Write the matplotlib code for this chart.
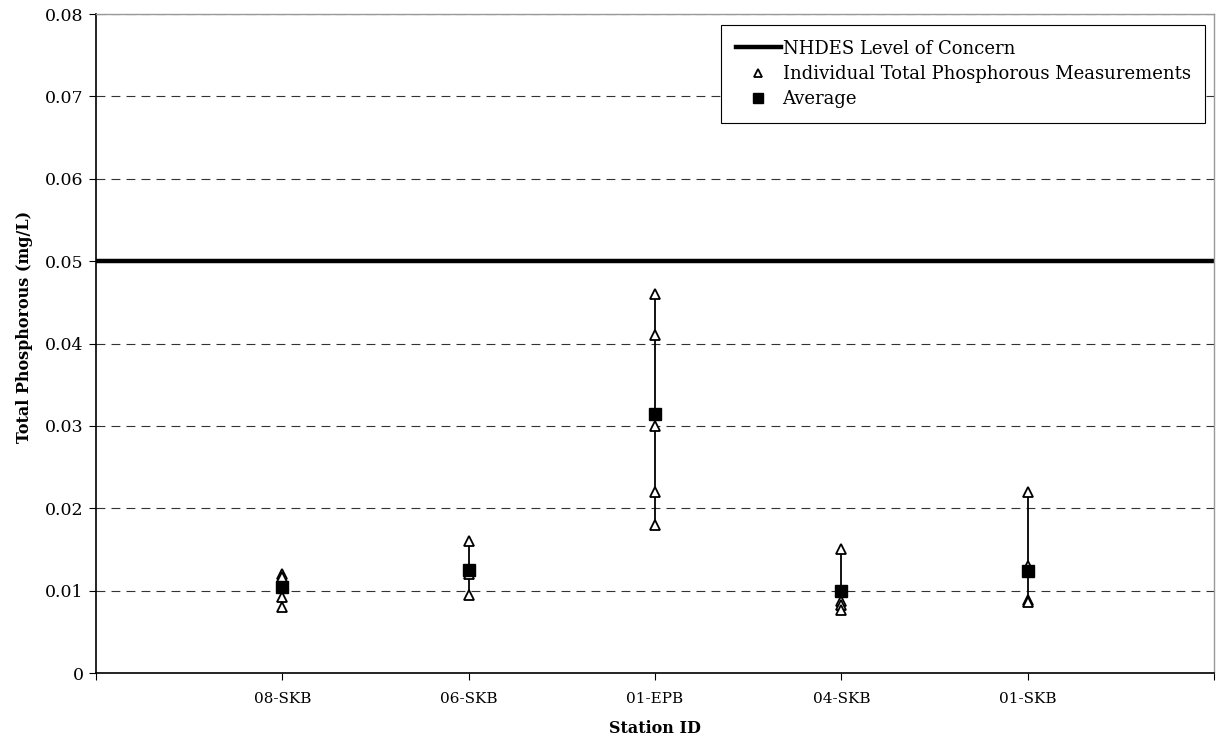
import matplotlib
matplotlib.use("Agg")
import matplotlib.pyplot as plt
from matplotlib.lines import Line2D

# =========================
# DATA
# =========================

stations = ["08-SKB", "06-SKB", "01-EPB", "04-SKB", "01-SKB"]

measurements = [
    [0.012, 0.0117, 0.0092, 0.008],
    [0.016, 0.012, 0.0095],
    [0.046, 0.041, 0.030, 0.022, 0.018],
    [0.015, 0.0088, 0.0082, 0.0077],
    [0.022, 0.013, 0.0089, 0.0086],
]

averages = [0.0105, 0.0125, 0.0315, 0.0100, 0.0124]

level_of_concern = 0.05

# =========================
# FIGURE
# =========================

plt.rcParams['font.family'] = ['DejaVu Serif']

fig = plt.figure(figsize=(12.17, 7.40), dpi=100)
ax = fig.add_axes([0.0789, 0.0905, 0.9186, 0.8905])

x_pos = list(range(1, len(stations) + 1))

ax.axhline(level_of_concern, color='black', lw=3.2, zorder=2)

for x, vals, avg in zip(x_pos, measurements, averages):
    ax.plot([x, x], [min(vals), max(vals)], color='black', lw=1.3, zorder=3)
    ax.plot([x] * len(vals), vals, linestyle='none', marker='^',
            markersize=7.5, markerfacecolor='white', markeredgecolor='black',
            markeredgewidth=1.3, zorder=4)
    ax.plot([x], [avg], linestyle='none', marker='s', markersize=8,
            color='black', zorder=5)

# =========================
# AXES
# =========================

ax.set_xlim(0, 6)
ax.set_ylim(0, 0.08)
ax.set_xticks(range(0, 7))
ax.set_xticklabels([""] + stations + [""], fontsize=11)
ax.set_yticks([i * 0.01 for i in range(9)])
ax.set_yticklabels(["0"] + ["%.2f" % (i * 0.01) for i in range(1, 9)],
                   fontsize=12.5)
ax.tick_params(axis='x', length=5, pad=9)
ax.tick_params(axis='y', length=5, pad=4)

ax.yaxis.grid(True, linestyle=(0, (8, 5.5)), color='#333333', lw=0.8)
ax.set_axisbelow(True)

for side in ['top', 'right']:
    ax.spines[side].set_color('#999999')
    ax.spines[side].set_linewidth(1.0)
for side in ['left', 'bottom']:
    ax.spines[side].set_linewidth(1.2)

ax.set_ylabel("Total Phosphorous (mg/L)", fontsize=11.5, fontweight='bold')
ax.yaxis.set_label_coords(-0.056, 0.525)
ax.set_xlabel("Station ID", fontsize=11.5, fontweight='bold', labelpad=10)

# =========================
# LEGEND
# =========================

handles = [
    Line2D([], [], color='black', lw=3.2),
    Line2D([], [], linestyle='none', marker='^', markersize=6,
           markerfacecolor='white', markeredgecolor='black',
           markeredgewidth=1.3),
    Line2D([], [], linestyle='none', marker='s', markersize=6.5,
           color='black'),
]
labels = ["NHDES Level of Concern",
          "Individual Total Phosphorous Measurements",
          "Average"]
leg = ax.legend(handles, labels, loc='upper right',
                bbox_to_anchor=(0.992, 0.983), fontsize=13,
                fancybox=False, framealpha=1, edgecolor='black',
                handlelength=2.5, handletextpad=0.1, borderpad=0.8,
                labelspacing=0.4, borderaxespad=0)
leg.get_frame().set_linewidth(0.8)

fig.savefig("out.png", dpi=100)
